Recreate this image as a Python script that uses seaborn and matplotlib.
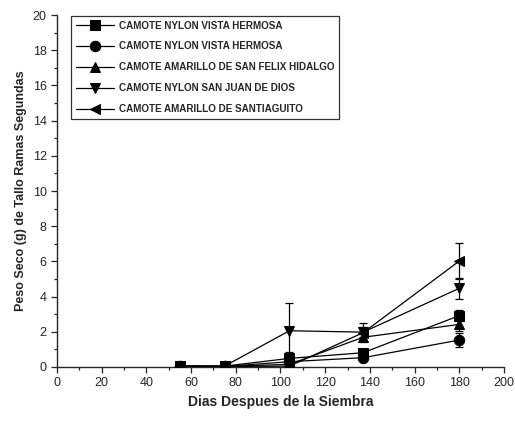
import pandas as pd
import matplotlib.pyplot as plt
import seaborn as sns

# NOTE: Datos
dias = [55, 75, 104, 137, 180]
series = [
    'CAMOTE NYLON VISTA HERMOSA ',
    'CAMOTE NYLON VISTA HERMOSA',
    'CAMOTE AMARILLO DE SAN FELIX HIDALGO',
    'CAMOTE NYLON SAN JUAN DE DIOS',
    'CAMOTE AMARILLO DE SANTIAGUITO',
]
peso_sq = [0.05, 0.05, 0.49, 0.81, 2.92]
peso_ci = [0.05, 0.03, 0.30, 0.53, 1.53]
peso_up = [0.05, 0.03, 0.15, 1.69, 2.42]
peso_dn = [0.05, 0.05, 2.06, 1.98, 4.47]
peso_lf = [0.05, 0.03, 0.05, 1.95, 6.02]
err_sq = [0.02, 0.02, 0.38, 0.15, 0.30]
err_ci = [0.02, 0.02, 0.10, 0.10, 0.38]
err_up = [0.02, 0.02, 0.05, 0.20, 0.40]
err_dn = [0.02, 0.02, 1.60, 0.30, 0.60]
err_lf = [0.02, 0.02, 0.05, 0.55, 1.00]

valores = [peso_sq, peso_ci, peso_up, peso_dn, peso_lf]
errores = [err_sq, err_ci, err_up, err_dn, err_lf]
marcadores = ['s', 'o', '^', 'v', '<']

df = pd.DataFrame({
    'DIAS': dias * len(series),
    'PESO': sum(valores, []),
    'ERR': sum(errores, []),
    'SERIE': [s for s in series for _ in dias],
})

sns.set_style('ticks')
plt.rcParams['font.family'] = ['Liberation Sans', 'DejaVu Sans']
plt.rcParams['xtick.direction'] = 'out'
plt.rcParams['ytick.direction'] = 'out'

fig = plt.figure(figsize=(5.15, 4.23), dpi=100)
ax = fig.add_axes([0.1107, 0.1324, 0.8679, 0.8321])

for serie in series:
    sub = df[df['SERIE'] == serie]
    ax.errorbar(sub['DIAS'], sub['PESO'], yerr=sub['ERR'], fmt='none',
                ecolor='black', elinewidth=0.9, capsize=3, capthick=0.9, zorder=2)

sns.lineplot(data=df, x='DIAS', y='PESO', style='SERIE', hue='SERIE',
             palette=['black'] * len(series), markers=dict(zip(series, marcadores)),
             dashes=False, markersize=7.5, linewidth=0.9, markeredgecolor='black',
             ax=ax, zorder=3)

ax.set_xlim(0, 200)
ax.set_ylim(0, 20)
ax.set_xticks(range(0, 201, 20))
ax.set_xticks(range(0, 201, 10), minor=True)
ax.set_yticks(range(0, 21, 2))
ax.set_yticks(range(0, 21, 1), minor=True)
ax.tick_params(axis='both', which='major', labelsize=9, length=4, width=0.9)
ax.tick_params(axis='both', which='minor', length=2.5, width=0.9)
for s in ['left', 'bottom']:
    ax.spines[s].set_linewidth(1.0)
sns.despine(ax=ax)

ax.set_xlabel('Dias Despues de la Siembra', fontsize=10, fontweight='bold')
ax.set_ylabel('Peso Seco (g) de Tallo Ramas Segundas', fontsize=9, fontweight='bold')

leg = ax.legend(loc='upper left', bbox_to_anchor=(0.031, 0.998),
                prop={'weight': 'bold', 'size': 7.1}, frameon=True, fancybox=False,
                edgecolor='black', handlelength=3.9, labelspacing=1.1,
                borderpad=0.5, handletextpad=0.45, borderaxespad=0)
leg.get_frame().set_linewidth(0.9)

plt.savefig('out.png', dpi=100)
